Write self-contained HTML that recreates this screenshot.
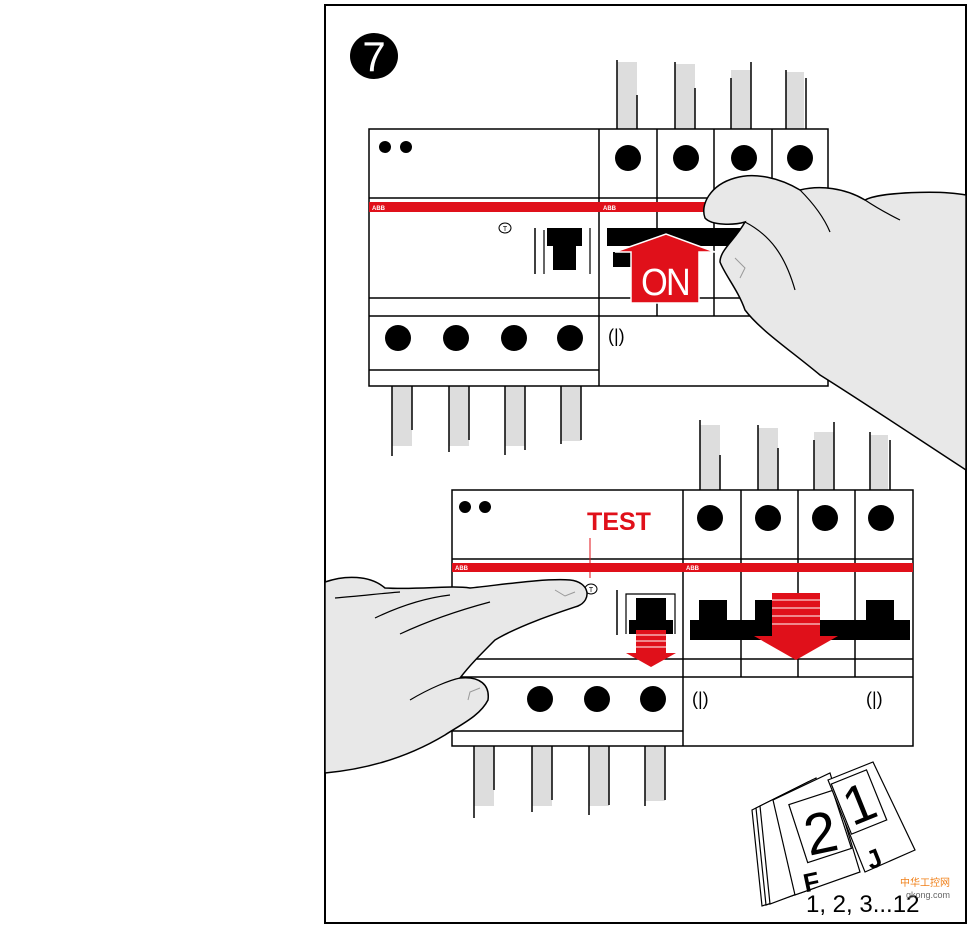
<!DOCTYPE html>
<html><head><meta charset="utf-8"><style>
html,body{margin:0;padding:0;background:#fff;width:970px;height:928px;overflow:hidden}
svg{display:block}
text{font-family:"Liberation Sans",Arial,sans-serif}
</style></head><body>
<svg width="970" height="928" viewBox="0 0 970 928" xmlns="http://www.w3.org/2000/svg">
<rect x="393" y="752" width="5" height="18" fill="#f07a10"/>
<rect x="325" y="5" width="641" height="918" fill="#fff" stroke="#000" stroke-width="2"/>
<ellipse cx="374" cy="56" rx="24" ry="23" fill="#000"/>
<text x="374" y="71" font-size="42" fill="#fff" text-anchor="middle">7</text>

<g fill="#ddd" stroke="#000" stroke-width="1.5">
<g><rect x="617" y="62" width="20" height="67" stroke="none"/><line x1="617" y1="60" x2="617" y2="129"/><line x1="637" y1="95" x2="637" y2="129"/></g>
<g><rect x="675" y="64" width="20" height="65" stroke="none"/><line x1="675" y1="62" x2="675" y2="129"/><line x1="695" y1="88" x2="695" y2="129"/></g>
<g><rect x="731" y="70" width="20" height="59" stroke="none"/><line x1="731" y1="78" x2="731" y2="129"/><line x1="751" y1="62" x2="751" y2="129"/></g>
<g><rect x="786" y="72" width="18" height="57" stroke="none"/><line x1="786" y1="70" x2="786" y2="129"/><line x1="806" y1="78" x2="806" y2="129"/></g>
<g><rect x="392" y="386" width="20" height="60" stroke="none"/><line x1="392" y1="386" x2="392" y2="456"/><line x1="412" y1="386" x2="412" y2="430"/></g>
<g><rect x="449" y="386" width="20" height="60" stroke="none"/><line x1="449" y1="386" x2="449" y2="452"/><line x1="469" y1="386" x2="469" y2="440"/></g>
<g><rect x="505" y="386" width="20" height="60" stroke="none"/><line x1="505" y1="386" x2="505" y2="455"/><line x1="525" y1="386" x2="525" y2="450"/></g>
<g><rect x="561" y="386" width="20" height="55" stroke="none"/><line x1="561" y1="386" x2="561" y2="444"/><line x1="581" y1="386" x2="581" y2="440"/></g>
<g><rect x="700" y="425" width="20" height="65" stroke="none"/><line x1="700" y1="420" x2="700" y2="490"/><line x1="720" y1="455" x2="720" y2="490"/></g>
<g><rect x="758" y="428" width="20" height="62" stroke="none"/><line x1="758" y1="425" x2="758" y2="490"/><line x1="778" y1="448" x2="778" y2="490"/></g>
<g><rect x="814" y="432" width="20" height="58" stroke="none"/><line x1="814" y1="440" x2="814" y2="490"/><line x1="834" y1="422" x2="834" y2="490"/></g>
<g><rect x="870" y="435" width="18" height="55" stroke="none"/><line x1="870" y1="432" x2="870" y2="490"/><line x1="890" y1="440" x2="890" y2="490"/></g>
<g><rect x="474" y="746" width="20" height="60" stroke="none"/><line x1="474" y1="746" x2="474" y2="818"/><line x1="494" y1="746" x2="494" y2="790"/></g>
<g><rect x="532" y="746" width="20" height="60" stroke="none"/><line x1="532" y1="746" x2="532" y2="812"/><line x1="552" y1="746" x2="552" y2="800"/></g>
<g><rect x="589" y="746" width="20" height="60" stroke="none"/><line x1="589" y1="746" x2="589" y2="815"/><line x1="609" y1="746" x2="609" y2="805"/></g>
<g><rect x="645" y="746" width="20" height="55" stroke="none"/><line x1="645" y1="746" x2="645" y2="806"/><line x1="665" y1="746" x2="665" y2="800"/></g>
</g>

<g stroke="#000" stroke-width="1.5" fill="none">
<rect x="369" y="129" width="459" height="257" fill="#fff"/>
<line x1="599" y1="129" x2="599" y2="386"/>
<line x1="657" y1="129" x2="657" y2="316"/><line x1="714" y1="129" x2="714" y2="316"/><line x1="772" y1="129" x2="772" y2="316"/>
<line x1="369" y1="198" x2="828" y2="198"/>
<line x1="369" y1="298" x2="828" y2="298"/>
<line x1="369" y1="316" x2="828" y2="316"/>
<line x1="369" y1="370" x2="599" y2="370"/>
</g>
<rect x="369" y="202" width="459" height="10" fill="#e0101a"/>
<text x="372" y="210" font-size="6" fill="#fff" font-weight="bold">ABB</text>
<text x="603" y="210" font-size="6" fill="#fff" font-weight="bold">ABB</text>
<g fill="#000">
<circle cx="385" cy="147" r="6"/><circle cx="406" cy="147" r="6"/>
<ellipse cx="628" cy="158" rx="13" ry="13"/><ellipse cx="686" cy="158" rx="13" ry="13"/><ellipse cx="744" cy="158" rx="13" ry="13"/><ellipse cx="800" cy="158" rx="13" ry="13"/>
<ellipse cx="398" cy="338" rx="13" ry="13"/><ellipse cx="456" cy="338" rx="13" ry="13"/><ellipse cx="514" cy="338" rx="13" ry="13"/><ellipse cx="570" cy="338" rx="13" ry="13"/>
<rect x="547" y="228" width="35" height="18"/><rect x="553" y="246" width="23" height="24"/>
<rect x="607" y="228" width="165" height="18"/><rect x="613" y="252" width="18" height="15"/>
</g>
<line x1="535" y1="228" x2="535" y2="274" stroke="#000" stroke-width="1.5"/>
<line x1="544" y1="230" x2="544" y2="274" stroke="#000" stroke-width="1.2"/>
<line x1="590" y1="228" x2="590" y2="274" stroke="#000" stroke-width="1.2"/>
<ellipse cx="505" cy="228" rx="6" ry="5" fill="#fff" stroke="#000"/>
<text x="505" y="231" font-size="7" text-anchor="middle">T</text>
<text x="608" y="342" font-size="18">(|)</text>
<polygon points="631,303 631,252 615,252 666,234 715,252 699,252 699,303" fill="#e0101a" stroke="#fff" stroke-width="1.5"/>
<text x="665" y="295" font-size="38" fill="#fff" text-anchor="middle" letter-spacing="-2" transform="translate(665 0) scale(0.9 1) translate(-665 0)">ON</text>

<path d="M966,195 C940,190 880,192 865,200 C845,188 820,185 800,190 C780,178 755,172 735,178 C710,185 700,205 705,218 C712,226 735,225 745,222 C735,240 720,250 720,262 C725,275 738,290 745,310 C760,330 790,350 820,375 C860,400 920,440 966,470 Z" fill="#e8e8e8" stroke="#000" stroke-width="1.5"/>
<path d="M800,190 C815,205 825,220 830,232 M865,200 C880,210 890,215 900,220 M745,222 C770,235 785,255 795,290" fill="none" stroke="#000" stroke-width="1.2"/>
<path d="M735,258 L745,268 L740,278" fill="none" stroke="#999"/>

<g stroke="#000" stroke-width="1.5" fill="none">
<rect x="452" y="490" width="461" height="256" fill="#fff"/>
<line x1="683" y1="490" x2="683" y2="746"/>
<line x1="741" y1="490" x2="741" y2="677"/><line x1="798" y1="490" x2="798" y2="677"/><line x1="855" y1="490" x2="855" y2="677"/>
<line x1="452" y1="559" x2="913" y2="559"/>
<line x1="452" y1="659" x2="913" y2="659"/>
<line x1="452" y1="677" x2="913" y2="677"/>
<line x1="452" y1="731" x2="683" y2="731"/>
</g>
<rect x="452" y="563" width="461" height="9" fill="#e0101a"/>
<text x="455" y="570" font-size="6" fill="#fff" font-weight="bold">ABB</text>
<text x="686" y="570" font-size="6" fill="#fff" font-weight="bold">ABB</text>
<text x="619" y="530" font-size="25" font-weight="bold" fill="#e0101a" text-anchor="middle">TEST</text>
<line x1="590" y1="538" x2="590" y2="578" stroke="#e0101a" stroke-width="1"/>
<g fill="#000">
<circle cx="465" cy="507" r="6"/><circle cx="485" cy="507" r="6"/>
<ellipse cx="710" cy="518" rx="13" ry="13"/><ellipse cx="768" cy="518" rx="13" ry="13"/><ellipse cx="825" cy="518" rx="13" ry="13"/><ellipse cx="881" cy="518" rx="13" ry="13"/>
<ellipse cx="540" cy="699" rx="13" ry="13"/><ellipse cx="597" cy="699" rx="13" ry="13"/><ellipse cx="653" cy="699" rx="13" ry="13"/>
<rect x="636" y="598" width="30" height="28"/><rect x="629" y="620" width="44" height="14"/>
<rect x="699" y="600" width="28" height="38"/><rect x="690" y="620" width="150" height="20"/><rect x="755" y="600" width="25" height="25"/>
<rect x="866" y="600" width="28" height="38"/><rect x="840" y="620" width="70" height="20"/>
</g>
<line x1="617" y1="590" x2="617" y2="635" stroke="#000" stroke-width="1.5"/>
<polyline points="626,634 626,594 675,594 675,634" fill="none" stroke="#000" stroke-width="1.2"/>
<ellipse cx="591" cy="589" rx="6" ry="5" fill="#fff" stroke="#000"/>
<text x="591" y="592" font-size="7" text-anchor="middle">T</text>
<g fill="#e0101a"><rect x="636" y="630" width="30" height="24"/><polygon points="626,653 676,653 651,667"/></g>
<g stroke="#fff" stroke-width="1"><line x1="636" y1="635" x2="666" y2="635"/><line x1="636" y1="641" x2="666" y2="641"/><line x1="636" y1="647" x2="666" y2="647"/></g>
<g fill="#e0101a"><rect x="772" y="593" width="48" height="43"/><polygon points="754,636 838,636 796,660"/></g>
<g stroke="#fff" stroke-width="1"><line x1="772" y1="600" x2="820" y2="600"/><line x1="772" y1="608" x2="820" y2="608"/><line x1="772" y1="616" x2="820" y2="616"/><line x1="772" y1="624" x2="820" y2="624"/></g>
<text x="692" y="705" font-size="18">(|)</text>
<text x="866" y="705" font-size="18">(|)</text>

<path d="M325,582 C345,575 370,575 385,588 C420,590 450,585 470,588 C500,585 545,578 570,580 C590,582 592,600 578,606 C560,612 520,625 495,640 C480,655 470,665 460,678 C480,676 490,685 488,700 C480,716 460,725 445,735 C420,750 380,768 325,773 Z" fill="#e8e8e8" stroke="#000" stroke-width="1.5"/>
<path d="M335,598 C360,596 385,593 400,592 M375,618 C400,606 425,598 450,595 M400,634 C430,620 460,610 490,602 M410,700 C430,688 450,680 460,678" fill="none" stroke="#000" stroke-width="1.2"/>
<path d="M555,590 L565,596 L575,592 M468,700 L470,692 L480,688" fill="none" stroke="#999"/>

<g stroke="#000" stroke-width="1.2" fill="#fff">
<polygon points="752,810 808,782 815,888 762,906"/>
<polygon points="756,808 812,780 822,885 766,905"/>
<polygon points="760,806 816,778 826,883 770,904"/>
<polygon points="773,800 830,773 860,872 795,895"/>
<rect x="797" y="796" width="46" height="61" transform="rotate(-18 820 826)"/>
<polygon points="828,780 873,762 915,850 865,872"/>
<rect x="840" y="775" width="38" height="54" transform="rotate(-22 859 802)"/>
</g>
<text x="820" y="853" font-size="58" text-anchor="middle" transform="rotate(-12 820 830)">2</text>
<text x="860" y="822" font-size="54" text-anchor="middle" transform="rotate(-22 860 805)">1</text>
<text x="803" y="892" font-size="26" font-weight="bold" transform="rotate(-12 806 880)">F</text>
<text x="866" y="870" font-size="26" font-weight="bold" transform="rotate(-22 868 858)">J</text>
<text x="806" y="912" font-size="24">1, 2, 3...12</text>
<text x="900" y="886" font-size="10" fill="#f0801a" font-family="Noto Sans CJK SC,sans-serif">中华工控网</text>
<text x="906" y="898" font-size="9" fill="#666">gkong.com</text>
</svg>
</body></html>
